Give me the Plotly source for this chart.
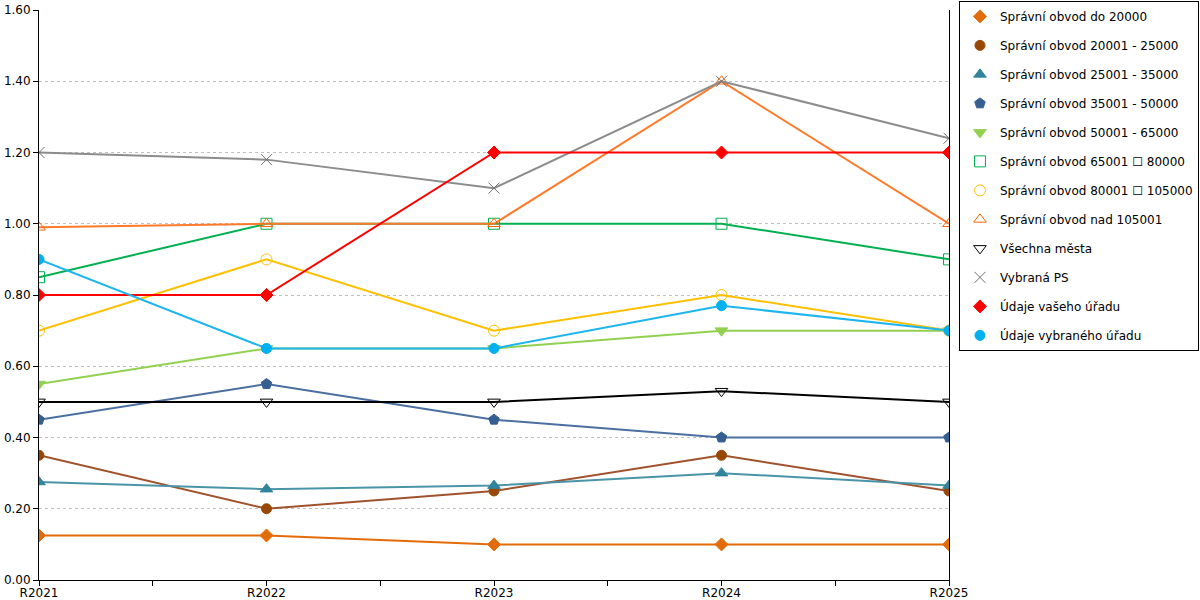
import plotly.graph_objects as go

# Roky (kategorie osy x)
roky = ["R2021", "R2022", "R2023", "R2024", "R2025"]

# Hodnoty jednotlivých řad
do_20000 = [0.125, 0.125, 0.10, 0.10, 0.10]
od_20001 = [0.35, 0.20, 0.25, 0.35, 0.25]
od_25001 = [0.275, 0.255, 0.265, 0.30, 0.265]
od_35001 = [0.45, 0.55, 0.45, 0.40, 0.40]
od_50001 = [0.55, 0.65, 0.65, 0.70, 0.70]
od_65001 = [0.85, 1.00, 1.00, 1.00, 0.90]
od_80001 = [0.70, 0.90, 0.70, 0.80, 0.70]
nad_105001 = [0.99, 1.00, 1.00, 1.40, 1.00]
vsechna_mesta = [0.50, 0.50, 0.50, 0.53, 0.50]
vybrana_ps = [1.20, 1.18, 1.10, 1.40, 1.24]
vas_urad = [0.80, 0.80, 1.20, 1.20, 1.20]
vybrany_urad = [0.90, 0.65, 0.65, 0.77, 0.70]

y_ticks = [0, 0.2, 0.4, 0.6, 0.8, 1.0, 1.2, 1.4, 1.6]

# (název, data, barva čáry, symbol, barva značky, velikost)
rady = [
    ("Správní obvod do 20000", do_20000, "#E36C0A", "diamond", "#E36C0A", 10),
    ("Správní obvod 20001 - 25000", od_20001, "#A0522D", "circle", "#974806", 10),
    ("Správní obvod 25001 - 35000", od_25001, "#4A94A8", "triangle-up", "#31849B", 11),
    ("Správní obvod 35001 - 50000", od_35001, "#4A6FA0", "pentagon", "#365F91", 11),
    ("Správní obvod 50001 - 65000", od_50001, "#92D050", "triangle-down", "#92D050", 11),
    ("Správní obvod 65001 \u2610 80000", od_65001, "#00B050", "square-open", "#00B050", 11),
    ("Správní obvod 80001 \u2610 105000", od_80001, "#FFC000", "circle-open", "#FFC000", 11),
    ("Správní obvod nad 105001", nad_105001, "#FF7A2A", "triangle-up-open", "#FF6600", 11),
    ("Všechna města", vsechna_mesta, "#000000", "triangle-down-open", "#000000", 11),
    ("Vybraná PS", vybrana_ps, "#8C8C8C", "x-thin-open", "#707070", 11),
    ("Údaje vašeho úřadu", vas_urad, "#FF0000", "diamond", "#FF0000", 10),
    ("Údaje vybraného úřadu", vybrany_urad, "#1CB5EE", "circle", "#00B0F0", 10),
]

x_idx = list(range(len(roky)))

fig = go.Figure()
for i, (nazev, data, barva, symbol, mbarva, velikost) in enumerate(rady):
    fig.add_trace(go.Scatter(
        x=x_idx, y=data, mode="lines+markers", name=nazev,
        line=dict(color=barva, width=2),
        marker=dict(symbol=symbol, size=velikost, color=mbarva,
                    line=dict(width=1, color=mbarva)),
        showlegend=False,
    ))
    # jen značka do legendy
    fig.add_trace(go.Scatter(
        x=[None], y=[None], mode="markers", name=nazev,
        legendgroup=str(i),
        marker=dict(symbol=symbol, size=velikost, color=mbarva,
                    line=dict(width=1, color=mbarva)),
    ))

fig.update_layout(
    width=1200, height=600,
    margin=dict(l=39, r=251, t=10, b=20, autoexpand=False),
    paper_bgcolor="white", plot_bgcolor="white",
    font=dict(family="DejaVu Sans", size=12, color="#000000"),
    legend=dict(
        x=1.2747, y=1.016, xanchor="right", yanchor="top",
        bordercolor="#000000", borderwidth=1, maxheight=590,
        font=dict(size=12), tracegroupgap=10,
    ),
    xaxis=dict(
        range=[0, len(roky) - 1], automargin=False,
        tickvals=x_idx, ticktext=roky,
        showgrid=False, zeroline=False,
        showline=True, linecolor="#000000", linewidth=1,
        ticks="outside", ticklen=4, tickcolor="#000000",
        ticklabelstandoff=-2,
        minor=dict(dtick=0.5, ticks="outside", ticklen=5, tickcolor="#000000"),
    ),
    yaxis=dict(
        range=[0, 1.6], automargin=False,
        tickvals=y_ticks, tickformat=".2f",
        showgrid=True, gridcolor="#BFBFBF", griddash="dot", gridwidth=1,
        zeroline=False,
        showline=True, linecolor="#000000", linewidth=1, mirror=True,
        ticks="outside", ticklen=5, tickcolor="#000000",
    ),
)

# okraj stránky pryč, aby graf seděl přesně do okna
fig.write_html("out.html", config={"displayModeBar": False},
               post_script="document.body.style.margin='0px';")
